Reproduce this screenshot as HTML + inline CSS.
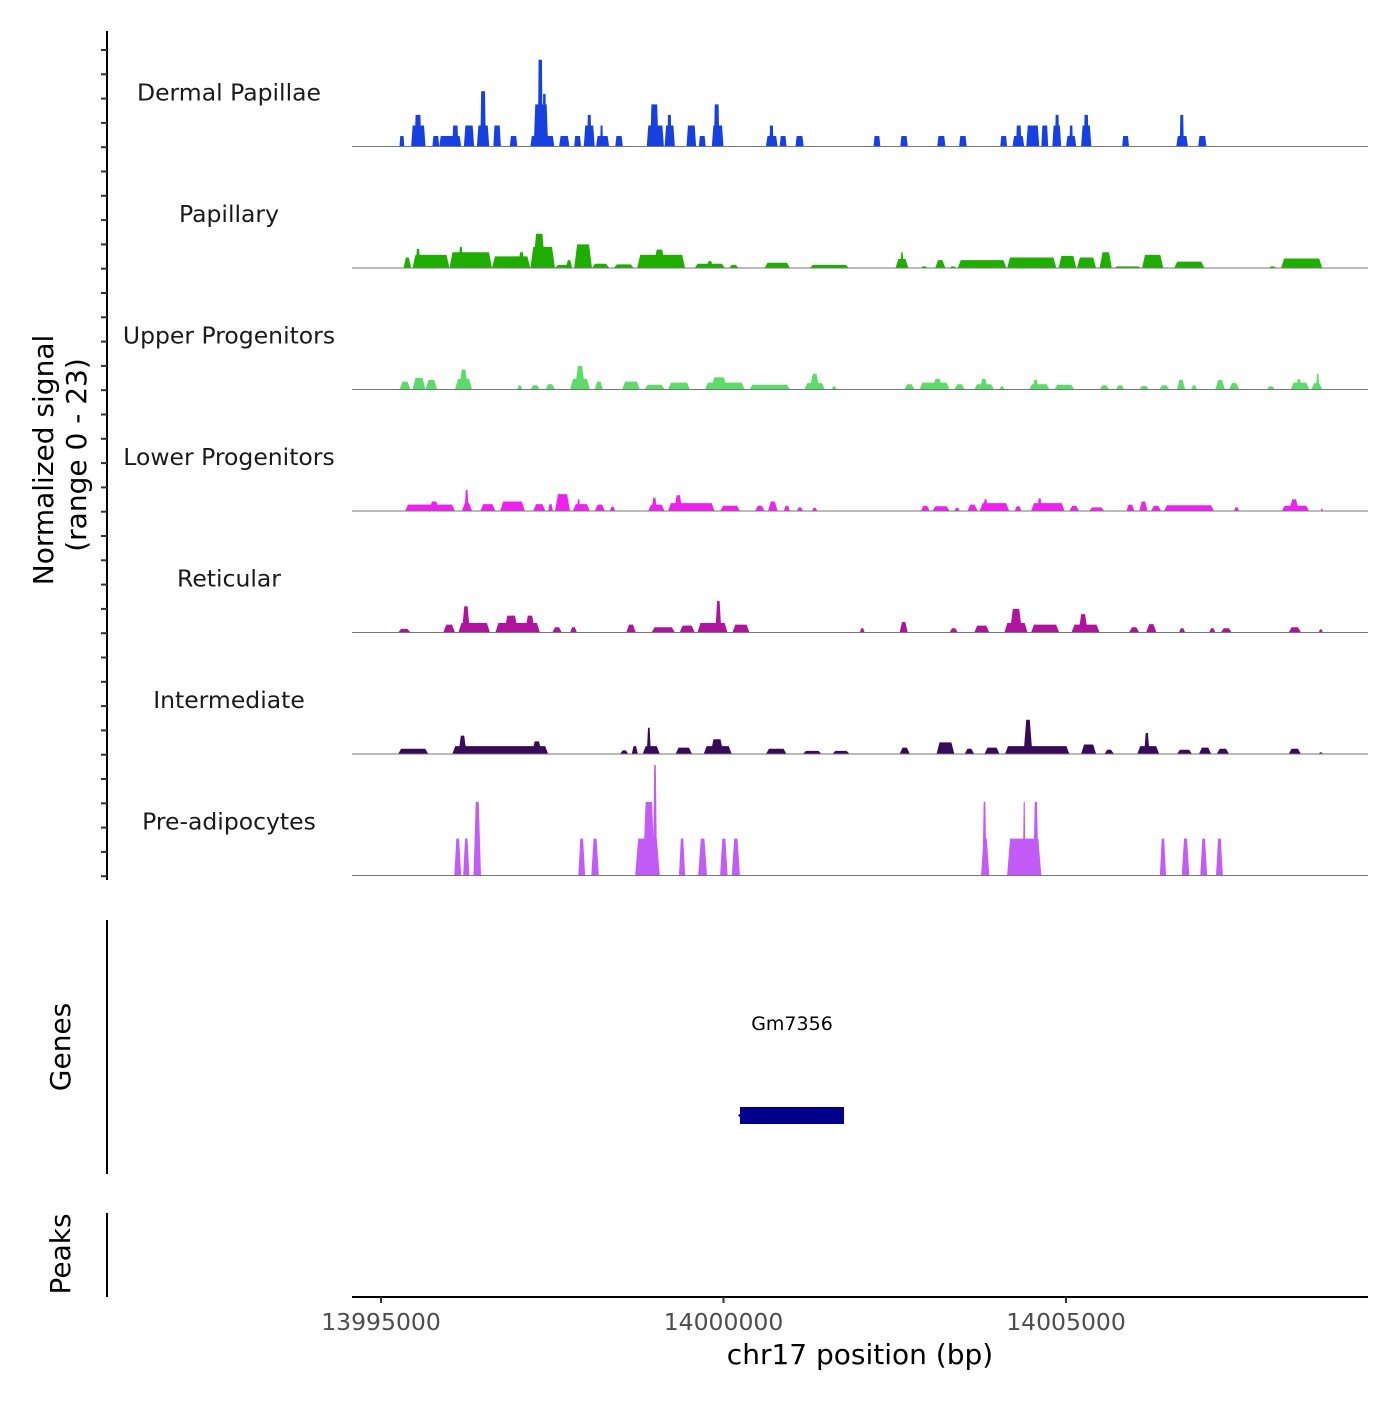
<!DOCTYPE html>
<html><head><meta charset="utf-8"><style>
body{margin:0;background:#fff;}
svg text{font-family:"DejaVu Sans","Liberation Sans",sans-serif;}
</style></head><body>
<svg id="chart" width="1400" height="1400" viewBox="0 0 1400 1400" xmlns="http://www.w3.org/2000/svg">
<rect width="1400" height="1400" fill="#fff"/>
<g id="tracks"></g>
<line x1="107" y1="31" x2="107" y2="880" stroke="#000" stroke-width="2"/>
<g id="yticks"></g>
<text transform="translate(53,460) rotate(-90)" text-anchor="middle" font-size="28" fill="#000">Normalized signal</text>
<text transform="translate(86,455) rotate(-90)" text-anchor="middle" font-size="28" fill="#000">(range 0 - 23)</text>
<line x1="107" y1="920" x2="107" y2="1174" stroke="#000" stroke-width="2"/>
<text transform="translate(70,1047) rotate(-90)" text-anchor="middle" font-size="28" fill="#000">Genes</text>
<text x="792" y="1030" text-anchor="middle" font-size="19" fill="#000">Gm7356</text>
<rect x="740" y="1107" width="104" height="17" fill="#00008b"/>
<polygon points="738,1115.5 742,1112 742,1119" fill="#00008b"/>
<line x1="107" y1="1213" x2="107" y2="1297" stroke="#000" stroke-width="2"/>
<text transform="translate(70,1254) rotate(-90)" text-anchor="middle" font-size="28" fill="#000">Peaks</text>
<line x1="352" y1="1297" x2="1368" y2="1297" stroke="#000" stroke-width="2"/>
<g id="xticks"></g>
<text x="860" y="1364" text-anchor="middle" font-size="28" fill="#000">chr17 position (bp)</text>
</svg>
<script>
const trackNames = ["Dermal Papillae","Papillary","Upper Progenitors","Lower Progenitors","Reticular","Intermediate","Pre-adipocytes"];
const trackColors = ["#1740e0","#1fae00","#5cdb6a","#ee22ee","#b0149f","#3a0a5a","#c35bf7"];
const xTicks = [13995000,14000000,14005000];
const yMax = 23;
const dermalPapillae = [[13995270,13995340,2],[13995440,13995650,4],[13995490,13995590,6],[13995750,13995850,2],[13995850,13996170,2],[13996040,13996130,4],[13996210,13996360,4],[13996400,13996580,4],[13996450,13996530,10.5],[13996640,13996750,4],[13996880,13996990,2],[13997180,13997530,2],[13997230,13997440,8],[13997290,13997360,16.5],[13997360,13997410,10],[13997600,13997750,2],[13997820,13997920,2],[13997960,13998120,4],[13998010,13998070,6],[13998140,13998330,2],[13998200,13998240,4],[13998420,13998530,2],[13998880,13999130,4],[13998930,13999050,8],[13999140,13999290,4],[13999180,13999240,6],[13999460,13999600,4],[13999640,13999740,2],[13999830,14000000,4],[13999860,13999940,8],[14000620,14000790,2],[14000670,14000730,4],[14000820,14000920,2],[14001050,14001170,2],[14002190,14002290,2],[14002580,14002690,2],[14003120,14003240,2],[14003440,14003550,2],[14004040,14004140,2],[14004220,14004390,2],[14004270,14004350,4],[14004420,14004610,4],[14004640,14004740,4],[14004800,14004930,4],[14004840,14004900,6],[14005000,14005150,2],[14005050,14005100,4],[14005220,14005370,4],[14005260,14005330,6],[14005820,14005920,2],[14006610,14006780,2],[14006660,14006720,6],[14006930,14007050,2]];
const papillary = [[13995330,13995440,2],[13995460,13996000,2.5],[13995500,13995580,3.6],[13996000,13996620,3],[13996130,13996200,4],[13996620,13997180,2.2],[13997000,13997100,3],[13997180,13997540,4],[13997220,13997400,6.5],[13997540,13997790,0.6],[13997700,13997790,1.5],[13997820,13998080,4.5],[13998080,13998330,0.8],[13998400,13998690,0.7],[13998740,13999440,2.5],[13998980,13999150,3.5],[13999580,14000020,0.8],[13999750,13999850,1.3],[14000080,14000220,0.6],[14000600,14000970,1],[14001260,14001830,0.6],[14002510,14002700,1.7],[14002580,14002630,3],[14002880,14002980,0.3],[14003090,14003240,1.5],[14003300,14003400,0.3],[14003420,14004130,1.5],[14004140,14004860,2],[14004890,14005150,2.3],[14005160,14005440,2],[14005490,14005670,3],[14005700,14006100,0.3],[14006110,14006420,2.5],[14006580,14007020,1.2],[14007960,14008070,0.3],[14008140,14008740,1.8]];
const upperProgenitors = [[13995270,13995430,1.5],[13995460,13995650,2.2],[13995650,13995820,1.8],[13996080,13996330,2],[13996140,13996270,3.8],[13996990,13997060,0.8],[13997180,13997320,0.8],[13997400,13997540,1],[13997760,13998050,2],[13997830,13997980,4.5],[13998120,13998240,1.5],[13998520,13998780,1.5],[13998850,13999140,0.9],[13999190,13999510,1.3],[13999730,14000310,1.3],[13999820,14000050,2.3],[14000380,14000970,0.9],[14001180,14001480,1.2],[14001260,14001400,3],[14001580,14001650,0.6],[14002640,14002790,1],[14002860,14003300,1.3],[14003050,14003200,2],[14003370,14003520,1],[14003660,14003950,1],[14003740,14003860,2],[14004030,14004100,0.6],[14004460,14004760,1],[14004510,14004600,1.8],[14004830,14005120,0.9],[14005490,14005630,0.8],[14005730,14005850,0.8],[14006070,14006210,0.7],[14006360,14006510,0.8],[14006620,14006740,1.8],[14006830,14006910,0.8],[14007180,14007320,1.8],[14007380,14007530,1.2],[14007930,14008050,0.6],[14008280,14008550,1.3],[14008360,14008440,2],[14008580,14008740,1.2],[14008650,14008700,3]];
const lowerProgenitors = [[13995350,13996080,1.2],[13995700,13995850,1.8],[13996180,13996330,1.5],[13996220,13996280,4],[13996450,13996670,1.3],[13996740,13997100,1.8],[13997220,13997400,1.3],[13997440,13997510,1.3],[13997540,13997760,3.2],[13997800,13998050,1.3],[13997860,13997910,2.2],[13998120,13998270,1.2],[13998340,13998420,0.8],[13998900,13999140,1.2],[13998950,13999030,2.5],[13999190,13999870,1.5],[13999280,13999400,3],[13999950,14000240,1],[14000460,14000600,1],[14000650,14000790,1.8],[14000880,14000970,1],[14001070,14001160,0.7],[14001290,14001370,0.6],[14002880,14003010,1],[14003050,14003300,0.9],[14003370,14003450,0.6],[14003560,14003710,1.2],[14003740,14004170,1.5],[14003790,14003860,2.2],[14004250,14004350,0.9],[14004490,14004980,1.5],[14004580,14004650,2.4],[14005050,14005190,1],[14005340,14005560,0.7],[14005880,14006000,1.2],[14006070,14006190,1.8],[14006240,14006390,1],[14006430,14007160,1.1],[14007450,14007530,0.7],[14008150,14008550,1],[14008260,14008400,2.2],[14008720,14008750,0.5]];
const reticular = [[13995250,13995430,0.7],[13995910,13996080,1.5],[13996130,13996590,1.8],[13996180,13996300,5],[13996670,13997320,1.8],[13996800,13997000,3.2],[13997100,13997250,3.2],[13997500,13997640,1],[13997760,13997860,1],[13998580,13998720,1.5],[13998950,13999290,1],[13999360,13999580,1.3],[13999620,14000060,1.8],[13999880,13999970,6],[14000130,14000380,1.5],[14001990,14002060,0.8],[14002570,14002690,2],[14003300,14003420,0.8],[14003660,14003880,1.3],[14004100,14004440,1.8],[14004180,14004360,4.5],[14004490,14004900,1.5],[14005080,14005490,1.5],[14005180,14005320,3.5],[14005920,14006070,1],[14006170,14006320,1.6],[14006650,14006740,0.8],[14007090,14007180,0.8],[14007260,14007420,0.8],[14008250,14008430,1],[14008690,14008750,0.6]];
const intermediate = [[13995250,13995690,1],[13996040,13997440,1.5],[13996130,13996250,3.5],[13997200,13997350,2.4],[13998490,13998610,0.7],[13998660,13998750,1.5],[13998820,13999070,1.5],[13998880,13998940,5],[13999300,13999540,1.2],[13999710,14000120,1.5],[13999810,14000000,2.8],[14000620,14000920,1],[14001160,14001430,0.6],[14001590,14001840,0.6],[14002570,14002720,1.2],[14003110,14003370,2.2],[14003520,14003660,1],[14003810,14004030,1.2],[14004110,14005050,1.5],[14004380,14004510,6.5],[14005220,14005440,1.8],[14005560,14005700,0.8],[14006040,14006360,1.5],[14006140,14006220,4],[14006620,14006840,0.8],[14006940,14007120,1.2],[14007200,14007380,1],[14008250,14008430,1],[14008690,14008750,0.3]];
const preAdipocytes = [[13996070,13996170,7],[13996200,13996290,7],[13996350,13996460,14],[13997880,13997980,7],[13998070,13998180,7],[13998710,13999070,7],[13998820,13999000,14],[13998970,13999030,21],[13999350,13999440,7],[13999630,13999760,7],[13999950,14000060,7],[14000120,14000240,7],[14003760,14003880,7],[14003780,14003840,14],[14004140,14004640,7],[14004370,14004410,14],[14004520,14004600,14],[14006370,14006460,7],[14006690,14006800,7],[14006960,14007060,7],[14007190,14007290,7]];
const trackData = [dermalPapillae,papillary,upperProgenitors,lowerProgenitors,reticular,intermediate,preAdipocytes];

const NS = "http://www.w3.org/2000/svg";
const xScale = bp => 381 + (bp - 13995000) * 342.5 / 5000;
const trackH = 121.5, firstBase = 146.5;
const yScale = (v, i) => (firstBase + i * trackH) - v / yMax * 121;
const g = document.getElementById('tracks');
trackData.forEach((segs, i) => {
  const base = firstBase + i * trackH;
  const lab = document.createElementNS(NS,'text');
  
  
  lab.setAttribute('x', 229); lab.setAttribute('y', base - 46);
  lab.setAttribute('text-anchor', 'middle'); lab.setAttribute('font-size', '23.5'); lab.setAttribute('fill', '#1a1a1a');
  lab.textContent = trackNames[i];
  g.appendChild(lab);
  segs.forEach(s => {
    const x0 = xScale(s[0]), x1 = xScale(s[1]);
    const w = x1 - x0;
    const t = i === 0 ? Math.min(1.5, w * 0.15) : Math.min(w * 0.3, 3);
    const y = yScale(s[2], i);
    const p = document.createElementNS(NS,'polygon');
    
    
    p.setAttribute('points', `${x0},${base} ${x0+t},${y} ${x1-t},${y} ${x1},${base}`);
    p.setAttribute('fill', trackColors[i]);
    g.appendChild(p);
  });
  const bl = document.createElementNS(NS,'line');
  
  
  bl.setAttribute('x1', 352); bl.setAttribute('x2', 1368);
  bl.setAttribute('y1', base); bl.setAttribute('y2', base);
  bl.setAttribute('stroke', '#777'); bl.setAttribute('stroke-width', '1');
  g.appendChild(bl);
});
const yt = document.getElementById('yticks');
for (let k = 0; k <= 34; k++) {
  const y = 50 + k * 24.3;
  const l = document.createElementNS(NS,'line');
  
  
  l.setAttribute('x1', 101); l.setAttribute('x2', 107);
  l.setAttribute('y1', y); l.setAttribute('y2', y);
  l.setAttribute('stroke', '#333'); l.setAttribute('stroke-width', '2');
  yt.appendChild(l);
}
const xt = document.getElementById('xticks');
xTicks.forEach(v => {
  const x = xScale(v);
  const l = document.createElementNS(NS,'line');
  
  
  l.setAttribute('x1', x); l.setAttribute('x2', x);
  l.setAttribute('y1', 1297); l.setAttribute('y2', 1303);
  l.setAttribute('stroke', '#333'); l.setAttribute('stroke-width', '2');
  xt.appendChild(l);
  const t = document.createElementNS(NS,'text');
  
  
  t.setAttribute('x', x); t.setAttribute('y', 1330);
  t.setAttribute('text-anchor', 'middle'); t.setAttribute('font-size', '23.5'); t.setAttribute('fill', '#4d4d4d');
  t.textContent = v;
  xt.appendChild(t);
});
</script>
</body></html>
